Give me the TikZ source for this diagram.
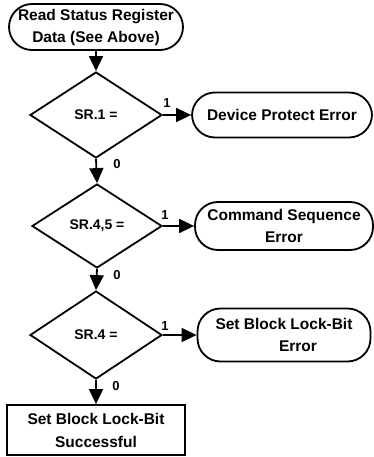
\documentclass[tikz,border=0pt]{standalone}
\usepackage{fontspec}
\setmainfont{Liberation Sans}
\usetikzlibrary{shapes.geometric,arrows.meta}

\tikzset{
  flow/.style={line width=1.8pt},
  term/.style={flow, draw, rectangle, rounded corners=23pt, align=center,
    inner sep=0pt, font=\bfseries\fontsize{15.5}{22}\selectfont},
  decide/.style={flow, draw, diamond, inner sep=0pt,
    font=\bfseries\fontsize{14}{17}\selectfont},
  result/.style={flow, draw, rectangle, align=center, inner sep=0pt,
    font=\bfseries\fontsize{15.5}{23}\selectfont},
  arr/.style={flow, -{Triangle[length=15pt,width=14pt]}},
  lbl/.style={font=\bfseries\fontsize{13}{13}\selectfont, inner sep=0pt}
}

\begin{document}
\begin{tikzpicture}[x=1pt,y=-1pt]
  \useasboundingbox (0,0) rectangle (374,457);

  % start
  \node[term, minimum width=174pt, minimum height=46pt] (start) at (96,27)
    {Read Status Register\\Data (See Above)};

  % decisions
  \node[decide, minimum width=132pt, minimum height=86pt] (d1) at (96,115) {SR.1 =};
  \node[decide, minimum width=130pt, minimum height=84pt] (d2) at (97,226) {SR.4,5 =};
  \node[decide, minimum width=132pt, minimum height=88pt] (d3) at (96,335) {SR.4 =};

  % error terminators
  \node[term, minimum width=180pt, minimum height=45pt] (e1) at (282,115)
    {Device Protect Error};
  \node[term, minimum width=178pt, minimum height=48pt] (e2) at (284,226)
    {Command Sequence\\Error};
  \node[term, minimum width=173pt, minimum height=53pt] (e3) at (284,335)
    {Set Block Lock-Bit\\\hspace*{28pt}Error};

  % success box
  \node[result, minimum width=178pt, minimum height=50pt] (ok) at (96,430)
    {Set Block Lock-Bit\\Successful};

  % vertical flow
  \draw[arr] (start.south) -- (d1.north);
  \draw[arr] (d1.south) -- (d2.north);
  \draw[arr] (d2.south) -- (d3.north);
  \draw[arr] (d3.south) -- (ok.north -| d3.south);

  % branches to errors
  \draw[arr] (d1.east) -- (e1.west);
  \draw[arr] (d2.east) -- (e2.west);
  \draw[arr] (d3.east) -- (e3.west);

  % branch labels
  \node[lbl] (l1) at (167,103) {1};
  \node[lbl] (l2) at (165,215) {1};
  \node[lbl] (l3) at (165,326) {1};
  \node[lbl] (z1) at (117,164) {0};
  \node[lbl] (z2) at (117,275) {0};
  \node[lbl] (z3) at (116,386) {0};
\end{tikzpicture}
\end{document}
